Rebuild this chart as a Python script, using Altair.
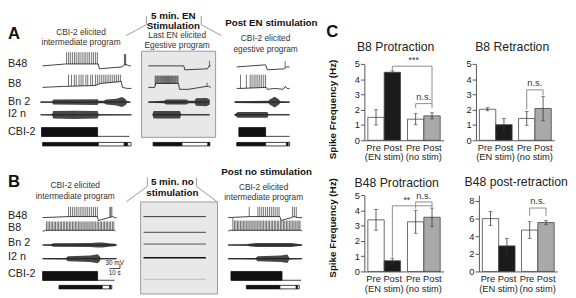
import altair as alt
import numpy as np
import pandas as pd

FONT = "Liberation Sans"

# =================== DATA : panel C (spike frequency, Hz) ===================
GROUPS = ["EN", "NO"]
PHASES = ["Pre", "Post"]
CONDS = ["pre", "post_en", "pre", "post_no"]
B8_PRO_MEAN = [1.50, 4.45, 1.38, 1.60]
B8_PRO_SEM = [0.50, 0.10, 0.36, 0.20]
B8_RET_MEAN = [2.03, 1.02, 1.43, 2.08]
B8_RET_SEM = [0.10, 0.40, 0.45, 0.80]
B48_PRO_MEAN = [3.38, 0.70, 3.25, 3.55]
B48_PRO_SEM = [0.68, 0.17, 0.75, 0.60]
B48_RET_MEAN = [6.00, 2.90, 4.70, 5.55]
B48_RET_SEM = [0.80, 0.85, 0.95, 0.25]
TICKS_5 = [0, 1, 2, 3, 4, 5]
TICKS_8 = [0, 2, 4, 6, 8]
# significance brackets: (group, phase, value) corner points
B8_PRO_BRK = [[("EN", "Post", 4.62), ("EN", "Post", 4.85), ("NO", "Post", 4.85), ("NO", "Post", 2.4)],
              [("NO", "Pre", 2.1), ("NO", "Pre", 2.4), ("NO", "Post", 2.4), ("NO", "Post", 2.1)]]
B8_PRO_NOTE = [("NO", "Pre", 4.9, "***", -2), ("NO", "", 2.5, "n.s.", 0)]
B8_RET_BRK = [[("NO", "Pre", 2.0), ("NO", "Pre", 3.3), ("NO", "Post", 3.3), ("NO", "Post", 2.95)]]
B8_RET_NOTE = [("NO", "", 3.4, "n.s.", 0)]
B48_PRO_BRK = [[("EN", "Post", 0.95), ("EN", "Post", 4.3), ("NO", "Post", 4.3)],
               [("NO", "Pre", 4.1), ("NO", "Pre", 4.55), ("NO", "Post", 4.55), ("NO", "Post", 4.2)]]
B48_PRO_NOTE = [("NO", "Pre", 4.35, "**", -9), ("NO", "", 4.62, "n.s.", 0)]
B48_RET_BRK = [[("NO", "Pre", 6.3), ("NO", "Pre", 7.2), ("NO", "Post", 7.2), ("NO", "Post", 6.3)]]
B48_RET_NOTE = [("NO", "", 7.4, "n.s.", 0)]

# =================== DATA : recordings (time s, membrane mV, extracellular a.u.) ===================
# A1: CBI-2 elicited intermediate program (before EN)
A1_B48_T = [0, 21.8, 52.7, 53.6, 75.5, 77, 80, 82, 83.6]
A1_B48_V = [0, 13, 13, -20, -7, 7, 7, 0, 0]
A1_B48_SPK = [22.7, 24.6, 26.3, 28.2, 30.1, 31.8, 33.7, 35.4, 37.3, 39.2, 40.9, 42.8, 44.5, 46.5, 48.2, 50.1, 51.8]
A1_B48_SPK2 = [77.4, 78.0, 78.6]
A1_B8_T = [0, 20, 50, 55, 74.5, 75.5, 80, 84]
A1_B8_V = [0, 7, 13, 27, 40, 0, -7, -7]
A1_B8_SPK = [24.5, 27.3, 30.0, 31.8, 34.5, 36.4, 38.2, 40.9, 42.7, 45.5, 47.3, 50.0, 51.8, 53.6,
             55.5, 57.3, 59.1, 60.9, 62.7, 64.5, 66.4, 68.2, 70.0, 71.8, 73.6]
A1_BN2_T = [-2, 9, 10, 52, 53, 58, 60, 70, 75, 78, 80, 83]
A1_BN2_A = [0.7, 0.8, 3.0, 3.5, 1.5, 1.5, 3.0, 4.0, 6.0, 4.0, 1.0, 0.7]
A1_I2N_T = [-2, 9, 10, 30, 52, 53, 84]
A1_I2N_A = [0.5, 0.8, 4.5, 5.0, 4.5, 0.7, 0.5]
A1_CBI2 = [-1, 52, 82]
A1_PHASE = [("P", 0, 52.7), ("R", 52.7, 77.3), ("P", 77.3, 80.5), ("R", 80.5, 83.6)]
# A2: last EN elicited egestive program
A2_B48_T = [0, 33.6, 34.5, 56, 57.5, 59]
A2_B48_V = [0, 0, -27, -20, 0, 0]
A2_B48_SPK = [57.8]
A2_B8_T = [0, 6, 7, 28.5, 29.5, 38, 55, 57, 59]
A2_B8_V = [0, 0, 27, 27, -13, -13, 7, 7, 0]
A2_B8_SPK = [6.5, 7.3, 8.3, 9.1, 10.0, 11.0, 11.8, 12.7, 13.7, 14.5, 15.4, 16.4, 17.2, 18.1,
             19.1, 19.9, 20.8, 21.8, 22.6, 23.5, 24.5, 25.3, 26.2, 27.2, 28.1]
A2_B8_SPK2 = [55.6]
A2_BN2_T = [0, 15, 17, 36, 38, 44, 45, 55, 58]
A2_BN2_A = [0.8, 1.5, 3.0, 3.0, 1.5, 1.5, 4.5, 5.0, 3.0]
A2_I2N_T = [4, 5, 30, 31, 58]
A2_I2N_A = [0.6, 4.5, 4.5, 0.6, 0.6]
A2_PHASE = [("P", 4.5, 31.8), ("R", 31.8, 56.4), ("P", 56.4, 58.2)]
# A3: CBI-2 elicited egestive program (after EN)
A3_B48_T = [0, 27.3, 29, 45, 47, 50]
A3_B48_V = [-7, 7, -27, -20, -7, -7]
A3_B48_SPK = [45.8]
A3_B8_T = [0, 3, 28, 29, 36, 44, 46, 47.5, 50]
A3_B8_V = [-7, -7, 0, -13, -7, -13, 7, -7, -7]
A3_B8_SPK = [3.6, 9.1, 12.7, 14.5, 16.4, 18.2, 20.0, 21.8, 23.6, 25.5, 27.3]
A3_BN2_T = [-2, 30, 31, 36, 40, 41, 50]
A3_BN2_A = [1.0, 1.5, 3.0, 6.5, 3.0, 1.0, 0.8]
A3_I2N_T = [-2, 1, 29, 30, 50]
A3_I2N_A = [0.6, 3.5, 3.5, 0.6, 0.6]
A3_CBI2 = [2, 27.3, 50]
A3_PHASE = [("P", 0, 27.3), ("R", 27.3, 47.3), ("P", 47.3, 48.6), ("R", 48.6, 50)]
# B1: CBI-2 elicited intermediate program (before no stimulation)
B1_B48_T = [0, 24.5, 51.8, 52.7, 62.7, 66.4, 68, 70]
B1_B48_V = [0, 7, 7, -20, 0, 7, 0, 0]
B1_B48_SPK = [24.5, 26.4, 28.2, 30.0, 31.8, 33.6, 35.5, 37.3, 39.1, 40.9, 42.7, 44.5, 46.4, 48.2, 50.0, 51.8]
B1_B48_SPK2 = [63.6, 64.5, 65.5]
B1_B8_T = [0, 3, 68, 69]
B1_B8_V = [0, 7, 7, 0]
B1_B8_SPK = [3.6, 5.1, 6.4, 8.0, 9.3, 10.9, 12.2, 13.8, 15.1, 16.7, 18.0, 19.6, 20.9, 22.5, 23.8,
             25.4, 26.7, 28.3, 29.6, 31.2, 32.5, 34.1, 35.4, 37.0, 38.3, 39.9, 41.2, 42.8, 44.1,
             45.7, 47.0, 48.6, 49.9, 51.5, 52.8, 54.4, 55.7, 57.3, 58.6, 60.2, 61.5, 63.1, 64.4, 66.0, 67.3]
B1_BN2_T = [0, 8, 10, 45, 52, 57, 62, 68, 70]
B1_BN2_A = [0.6, 0.8, 2.0, 2.5, 3.0, 3.0, 2.0, 1.5, 0.6]
B1_I2N_T = [0, 22, 24, 45, 52, 54, 55, 70]
B1_I2N_A = [0.5, 0.8, 3.0, 4.0, 5.5, 3.0, 0.7, 0.5]
B1_CBI2 = [0, 52, 68]
B1_PHASE = [("P", 15.5, 56.4), ("R", 56.4, 63.6), ("P", 63.6, 64.5), ("R", 64.5, 65.5)]
# B2: 5 min without stimulation (flat traces)
B2_FLAT_T = [0, 59]
# B3: CBI-2 elicited intermediate program (after no stimulation)
B3_B48_T = [0, 20, 49, 50, 60, 62, 66, 70]
B3_B48_V = [0, 7, 7, -20, 0, 7, 0, 0]
B3_B48_SPK = [20.0, 28.2, 30.0, 31.8, 33.6, 35.5, 37.3, 39.1, 40.9, 42.7, 44.5, 46.4, 48.2]
B3_B48_SPK2 = [61.0, 62.7, 64.5]
B3_B8_T = [0, 1.5, 69, 70]
B3_B8_V = [0, 7, 7, 0]
B3_B8_SPK = [6.0, 7.4, 8.9, 10.2, 11.8, 13.1, 14.7, 16.0, 17.6, 18.9, 20.5, 21.8, 23.4, 24.7, 26.3,
             27.6, 29.2, 30.5, 32.1, 33.4, 35.0, 36.3, 37.9, 39.2, 40.8, 42.1, 43.7, 45.0, 46.6,
             47.9, 49.5, 50.8, 52.4, 53.7, 55.3, 56.6, 58.2, 59.5, 61.1, 62.4, 64.0, 65.3, 66.9, 68.0]
B3_B8_SPK2 = [4.5]
B3_BN2_T = [0, 18, 20, 28, 60, 65, 70]
B3_BN2_A = [0.6, 1.0, 1.5, 2.5, 2.5, 1.5, 0.6]
B3_I2N_T = [0, 26, 28, 50, 56, 58, 70]
B3_I2N_A = [0.5, 0.8, 3.0, 4.0, 5.0, 0.8, 0.5]
B3_CBI2 = [2.7, 51, 69]
B3_PHASE = [("P", 17.3, 49), ("R", 49, 64.5), ("P", 64.5, 65.5), ("R", 65.5, 67.3)]
SCALE_BAR = (10, 30)  # s, mV

# =================== LAYOUT (left panels, figure pixels) ===================
K = 1.1    # px per second
VS = 0.15  # px per mV
ES = 0.85  # px per extracellular unit
CBI2_MV = 60
ROWS_A = dict(B48=64, B8=86, Bn2=101, I2n=114, CBI2=136, TL=144)
ROWS_B = dict(B48=219, B8=233, Bn2=247, I2n=261, CBI2=283, TL=290)
X0 = dict(A1=38, A2=148, A3=240, B1=38, B2=143, B3=231)
TOP_Y = 62   # left panel origin aligned with the top of panel C plots

vm, spk, env, rects = [], [], [], []


def add_vm(tid, x0, base, T, V):
    for i, (t, v) in enumerate(zip(T, V)):
        vm.append(dict(id=tid, o=i, x=x0 + t * K, y=base - v * VS))


def add_spk(x0, base, T, V, S, peak):
    for s in S:
        v = float(np.interp(s, T, V))
        spk.append(dict(x=x0 + s * K, y=base - v * VS, y2=base - peak * VS))


def add_env(tid, x0, base, T, A):
    for t, a in zip(T, A):
        env.append(dict(id=tid, x=x0 + t * K, y=base - a * ES, y2=base + a * ES))
    add_vm(tid + "line", x0, base, [T[0], T[-1]], [0, 0])


def add_cbi2(tid, x0, base, C):
    rects.append(dict(x=x0 + C[0] * K, x2=x0 + C[1] * K, y=base - CBI2_MV * VS, y2=base, f="#111", s="#111"))
    add_vm(tid, x0, base, [C[0], C[2]], [0, 0])


def add_phase(x0, base, P):
    for ph, a, b in P:
        rects.append(dict(x=x0 + a * K, x2=x0 + b * K, y=base - 1.8, y2=base + 1.8,
                          f="#111" if ph == "P" else "#ffffff", s="#111"))


def add_rec(name, R, b48, b8, bn2, i2n, peaks):
    x0 = X0[name]
    add_vm(name + "b48", x0, R["B48"], b48[0], b48[1])
    add_spk(x0, R["B48"], b48[0], b48[1], b48[2], peaks[0])
    if len(b48) > 3:
        add_spk(x0, R["B48"], b48[0], b48[1], b48[3], peaks[1])
    add_vm(name + "b8", x0, R["B8"], b8[0], b8[1])
    add_spk(x0, R["B8"], b8[0], b8[1], b8[2], peaks[2])
    if len(b8) > 3:
        add_spk(x0, R["B8"], b8[0], b8[1], b8[3], peaks[3])
    add_env(name + "bn2", x0, R["Bn2"], bn2[0], bn2[1])
    add_env(name + "i2n", x0, R["I2n"], i2n[0], i2n[1])


add_rec("A1", ROWS_A, (A1_B48_T, A1_B48_V, A1_B48_SPK, A1_B48_SPK2), (A1_B8_T, A1_B8_V, A1_B8_SPK),
        (A1_BN2_T, A1_BN2_A), (A1_I2N_T, A1_I2N_A), (93, 80, 87, 0))
add_cbi2("A1c", X0["A1"], ROWS_A["CBI2"], A1_CBI2)
add_phase(X0["A1"], ROWS_A["TL"], A1_PHASE)
add_rec("A2", ROWS_A, (A2_B48_T, A2_B48_V, A2_B48_SPK), (A2_B8_T, A2_B8_V, A2_B8_SPK, A2_B8_SPK2),
        (A2_BN2_T, A2_BN2_A), (A2_I2N_T, A2_I2N_A), (35, 0, 80, 33))
add_phase(X0["A2"], ROWS_A["TL"], A2_PHASE)
add_rec("A3", ROWS_A, (A3_B48_T, A3_B48_V, A3_B48_SPK), (A3_B8_T, A3_B8_V, A3_B8_SPK),
        (A3_BN2_T, A3_BN2_A), (A3_I2N_T, A3_I2N_A), (33, 0, 87, 0))
add_cbi2("A3c", X0["A3"], ROWS_A["CBI2"], A3_CBI2)
add_phase(X0["A3"], ROWS_A["TL"], A3_PHASE)
add_rec("B1", ROWS_B, (B1_B48_T, B1_B48_V, B1_B48_SPK, B1_B48_SPK2), (B1_B8_T, B1_B8_V, B1_B8_SPK),
        (B1_BN2_T, B1_BN2_A), (B1_I2N_T, B1_I2N_A), (73, 73, 67, 0))
add_cbi2("B1c", X0["B1"], ROWS_B["CBI2"], B1_CBI2)
add_phase(X0["B1"], ROWS_B["TL"], B1_PHASE)
add_rec("B3", ROWS_B, (B3_B48_T, B3_B48_V, B3_B48_SPK, B3_B48_SPK2), (B3_B8_T, B3_B8_V, B3_B8_SPK, B3_B8_SPK2),
        (B3_BN2_T, B3_BN2_A), (B3_I2N_T, B3_I2N_A), (73, 73, 73, 90))
add_cbi2("B3c", X0["B3"], ROWS_B["CBI2"], B3_CBI2)
add_phase(X0["B3"], ROWS_B["TL"], B3_PHASE)

flat = []
for k, (row, col, w) in enumerate([(218, "#333", 1.0), (234, "#444", 1.0), (246, "#555", 1.0),
                                   (260, "#111", 1.6), (282, "#bbb", 1.0)]):
    for i, t in enumerate(B2_FLAT_T):
        flat.append(dict(id=k, o=i, x=X0["B2"] + t * K, y=row, c=col, w=w))
# scale bar (10 s, 30 mV)
sb_x, sb_y = 107.5, 271
flat.append(dict(id=10, o=0, x=sb_x, y=sb_y, c="#111", w=0.8))
flat.append(dict(id=10, o=1, x=sb_x + SCALE_BAR[0] * K, y=sb_y, c="#111", w=0.8))
flat.append(dict(id=10, o=2, x=sb_x + SCALE_BAR[0] * K, y=sb_y - SCALE_BAR[1] * VS, c="#111", w=0.8))

boxes = pd.DataFrame([dict(x=141, x2=218, y=49, y2=137), dict(x=140, x2=220, y=203, y2=297)])
brk_pts = []
for k, pts in enumerate([[(125, 33), (146, 22), (146, 13)], [(203, 13), (203, 22), (224, 33)],
                         [(125, 203), (147, 187), (147, 178)], [(198, 178), (198, 187), (220, 203)]]):
    for i, (x, y) in enumerate(pts):
        brk_pts.append(dict(id=k, o=i, x=x, y=y))

XS = alt.Scale(domain=[2, 330], nice=False, zero=False)
YS = alt.Scale(domain=[TOP_Y, 298], reverse=True, nice=False, zero=False)


def PX(f):
    return alt.X(f + ":Q", scale=XS, axis=None)


def PY(f):
    return alt.Y(f + ":Q", scale=YS, axis=None)


def texts(rows, **kw):
    df = pd.DataFrame(rows, columns=["x", "y", "t"])
    return alt.Chart(df).mark_text(font=FONT, **kw).encode(x=PX("x"), y=PY("y"), text="t:N")


L = []
L.append(alt.Chart(boxes).mark_rect(fill="#e8e8e8", stroke="#9a9a9a", strokeWidth=1).encode(
    x=PX("x"), x2="x2:Q", y=PY("y"), y2="y2:Q"))
L.append(alt.Chart(pd.DataFrame(brk_pts)).mark_line(color="#9a9a9a", strokeWidth=1).encode(
    x=PX("x"), y=PY("y"), detail="id:N", order="o:Q"))
L.append(alt.Chart(pd.DataFrame(flat)).mark_line().encode(
    x=PX("x"), y=PY("y"), detail="id:N", order="o:Q",
    color=alt.Color("c:N", scale=None), strokeWidth=alt.StrokeWidth("w:Q", scale=None)))
L.append(alt.Chart(pd.DataFrame(env)).mark_area(color="#333333", opacity=0.9).encode(
    x=PX("x"), y=PY("y"), y2="y2:Q", detail="id:N"))
L.append(alt.Chart(pd.DataFrame(vm)).mark_line(color="#111", strokeWidth=0.8).encode(
    x=PX("x"), y=PY("y"), detail="id:N", order="o:Q"))
L.append(alt.Chart(pd.DataFrame(spk)).mark_rule(color="#111", strokeWidth=0.6).encode(
    x=PX("x"), y=PY("y"), y2="y2:Q"))
L.append(alt.Chart(pd.DataFrame(rects)).mark_rect(strokeWidth=0.8).encode(
    x=PX("x"), x2="x2:Q", y=PY("y"), y2="y2:Q",
    fill=alt.Fill("f:N", scale=None), stroke=alt.Stroke("s:N", scale=None)))

L.append(texts([(2, 32, "A"), (2, 183, "B")], fontSize=17, fontWeight="bold", align="left", baseline="middle", color="#111"))
L.append(texts([(78, 29, "CBI-2 elicited"), (78, 40, "intermediate program"),
                (178, 33, "Last EN elicited"), (178, 43, "Egestive program"),
                (270, 36, "CBI-2 elicited"), (270, 47, "egestive program"),
                (72, 186, "CBI-2 elicited"), (72, 197, "intermediate program"),
                (268, 188, "CBI-2 elicited"), (268, 198, "intermediate program")],
               fontSize=8.5, align="center", baseline="middle", color="#333"))
L.append(texts([(174, 13.5, "5 min. EN"), (174, 23.5, "Stimulation"), (276, 20, "Post  EN stimulation"),
                (173, 183, "5 min. no"), (173, 194, "stimulation"), (271, 172, "Post no stimulation")],
               fontSize=10, fontWeight="bold", align="center", baseline="middle", color="#111"))
L.append(texts([(2, 62, "B48"), (2, 83, "B8"), (2, 101, "Bn 2"), (2, 113, "I2 n"), (2, 132, "CBI-2"),
                (2, 217, "B48"), (2, 230, "B8"), (2, 245, "Bn 2"), (2, 259, "I2 n"), (2, 277, "CBI-2")],
               fontSize=11, align="left", baseline="middle", color="#222"))
L.append(texts([(113, 268.5, "30 mV")], fontSize=6.5, align="center", baseline="bottom", color="#222"))
L.append(texts([(113, 272.5, "10 s")], fontSize=6.5, align="center", baseline="top", color="#222"))
# invisible pin for the top edge of the figure
L.append(texts([(2, 8, "A")], fontSize=8, align="left", baseline="top", opacity=0))

left = alt.layer(*L).properties(width=322, height=298 - TOP_Y)

# =================== panel C charts ===================
LABEL_EXPR = "datum.value == 'EN' ? ['Pre Post', '(EN stim)'] : ['Pre Post', '(no stim)']"


def bar_panel(title, means, sems, ydom, ticks, ytitle, brackets, notes, ty, tdx,
              pin_left, pin_top=None, pin_bottom=None, letter=False, w=80, h=78, title_y=None):
    df = pd.DataFrame({"grp": [g for g in GROUPS for _ in PHASES], "phase": PHASES * 2,
                       "cond": CONDS, "m": means, "s": sems})
    df["lo"] = df["m"] - df["s"]
    df["hi"] = df["m"] + df["s"]
    xaxis = alt.Axis(title=None, labelAngle=0, ticks=False, tickSize=0, labelPadding=2, labelFontSize=9.5,
                     labelLineHeight=10, labelExpr=LABEL_EXPR, labelOverlap=False, domainColor="#555",
                     labelColor="#222", labelFont=FONT)
    X = alt.X("grp:N", sort=GROUPS, scale=alt.Scale(paddingInner=0.175, paddingOuter=0.0875), axis=xaxis)
    XO = alt.XOffset("phase:N", sort=PHASES, scale=alt.Scale(paddingInner=0, paddingOuter=0))
    ysc = alt.Scale(domain=[0, ydom], nice=False)
    ykw = dict(values=ticks, format="d", grid=False, tickSize=4, labelPadding=1, labelFontSize=9.5,
               title=ytitle, titleFontSize=10, titleFontWeight="bold", titlePadding=17,
               domainColor="#555", tickColor="#555", labelColor="#222", titleColor="#111",
               labelFont=FONT, titleFont=FONT)
    if title_y is not None:
        ykw["titleY"] = title_y
    yax = alt.Axis(**ykw)

    def Y(f):
        return alt.Y(f + ":Q", scale=ysc, axis=yax)

    base = alt.Chart(df)
    lay = [
        base.mark_bar(stroke="#444", strokeWidth=0.8).encode(
            x=X, xOffset=XO, y=Y("m"),
            fill=alt.Fill("cond:N", scale=alt.Scale(domain=["pre", "post_en", "post_no"],
                                                    range=["#ffffff", "#1b1b1b", "#a9a9a9"]), legend=None)),
        base.mark_rule(color="#333", strokeWidth=0.8).encode(x=X, xOffset=XO, y=Y("lo"), y2="hi:Q"),
        base.mark_tick(color="#333", thickness=0.8, size=4).encode(x=X, xOffset=XO, y=Y("lo")),
        base.mark_tick(color="#333", thickness=0.8, size=4).encode(x=X, xOffset=XO, y=Y("hi")),
    ]
    bp = []
    for k, pts in enumerate(brackets):
        for i, (g, p, v) in enumerate(pts):
            bp.append(dict(bid=k, o=i, grp=g, phase=p, v=v))
    lay.append(alt.Chart(pd.DataFrame(bp)).mark_line(color="#8c8c8c", strokeWidth=1).encode(
        x=X, xOffset=XO, y=Y("v"), detail="bid:N", order="o:Q"))
    for g, p, v, t, dx in notes:
        nd = pd.DataFrame({"grp": [g], "phase": [p if p else "Pre"], "v": [v], "t": [t]})
        mk = alt.Chart(nd).mark_text(font=FONT, fontSize=9.5 if t == "n.s." else 9, color="#333",
                                     baseline="bottom", dx=dx)
        if p:
            lay.append(mk.encode(x=X, xOffset=XO, y=Y("v"), text="t:N"))
        else:
            lay.append(mk.encode(x=X, y=Y("v"), text="t:N"))
    one = alt.Chart(pd.DataFrame({"a": [0]}))
    # chart title drawn as text
    lay.append(one.mark_text(text=title, font=FONT, fontSize=12.5, color="#222", baseline="middle",
                             align="center").encode(x=alt.value(w / 2 + tdx), y=alt.value(ty)))
    lay.append(one.mark_text(text="C", opacity=0, fontSize=10, baseline="middle", align="left").encode(
        x=alt.value(pin_left), y=alt.value(h / 2)))
    if pin_top is not None:
        lay.append(one.mark_text(text="C", opacity=0, fontSize=10, baseline="top", align="left").encode(
            x=alt.value(0), y=alt.value(pin_top)))
    if pin_bottom is not None:
        lay.append(one.mark_text(text="C", opacity=0, fontSize=10, baseline="bottom", align="left").encode(
            x=alt.value(0), y=alt.value(pin_bottom)))
    if letter:
        lay.append(one.mark_text(text="C", font=FONT, fontSize=17, fontWeight="bold", baseline="middle",
                                 align="left", color="#111").encode(x=alt.value(-39), y=alt.value(-32)))
    return alt.layer(*lay).properties(width=w, height=h)


c1 = bar_panel("B8 Protraction", B8_PRO_MEAN, B8_PRO_SEM, 5, TICKS_5, "Spike Frequency (Hz)",
               B8_PRO_BRK, B8_PRO_NOTE, -17, -8.5, -41, pin_bottom=102, letter=True, w=81, title_y=46)
c2 = bar_panel("B8 Retraction", B8_RET_MEAN, B8_RET_SEM, 5, TICKS_5, None,
               B8_RET_BRK, B8_RET_NOTE, -17, -3, -12, pin_bottom=102)
c3 = bar_panel("B48 Protraction", B48_PRO_MEAN, B48_PRO_SEM, 5, TICKS_5, "Spike Frequency (Hz)",
               B48_PRO_BRK, B48_PRO_NOTE, -12, -7.5, -41, pin_top=-26, w=81, title_y=33)
c4 = bar_panel("B48 post-retraction", B48_RET_MEAN, B48_RET_SEM, 8.667, TICKS_8, None,
               B48_RET_BRK, B48_RET_NOTE, -13, -2, -12, pin_top=-26)

row1 = alt.hconcat(c1, c2, spacing=21)
row2 = alt.hconcat(c3, c4, spacing=21)
right = alt.vconcat(row1, row2, spacing=6)

chart = alt.hconcat(left, right, spacing=1).properties(padding=0).configure_view(stroke=None)
chart.save("out.html", embed_options={"renderer": "svg", "actions": False})
